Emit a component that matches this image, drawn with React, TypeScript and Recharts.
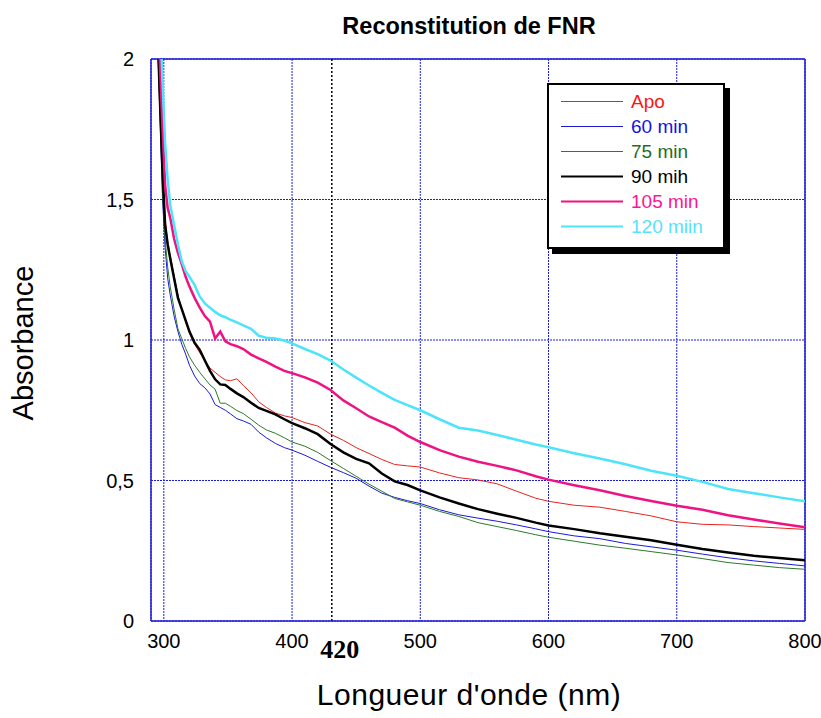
import { LineChart, Line, XAxis, YAxis, CartesianGrid, ReferenceLine, Legend } from "recharts"

const FONT = "'Liberation Sans', Arial, Helvetica, sans-serif"

// wavelength (nm)
const WAVELENGTHS = [
    295, 297, 299, 301, 303, 305, 308, 311, 314, 317, 320, 324, 328, 332, 336, 340, 344, 348, 352, 357, 362,
    368, 374, 380, 387, 394, 400, 410, 420, 430, 440, 450, 460, 470, 480, 490, 500, 515, 530, 545, 560, 575,
    590, 600, 620, 640, 660, 680, 700, 720, 740, 760, 780, 800,
]

const APO = [
    2.08, 1.86, 1.6, 1.43, 1.35, 1.3, 1.23, 1.16, 1.11, 1.065, 1.025, 0.985, 0.955, 0.927, 0.9, 0.885, 0.87,
    0.858, 0.855, 0.862, 0.838, 0.812, 0.78, 0.76, 0.74, 0.73, 0.724, 0.706, 0.694, 0.665, 0.643, 0.617, 0.596,
    0.575, 0.557, 0.552, 0.548, 0.527, 0.51, 0.502, 0.488, 0.462, 0.437, 0.426, 0.412, 0.405, 0.39, 0.374,
    0.353, 0.344, 0.342, 0.336, 0.331, 0.326,
]
const MIN60 = [
    2.08, 1.8, 1.5, 1.33, 1.22, 1.16, 1.085, 1.03, 0.985, 0.95, 0.91, 0.872, 0.845, 0.83, 0.808, 0.77, 0.76,
    0.75, 0.737, 0.72, 0.712, 0.7, 0.672, 0.652, 0.632, 0.617, 0.608, 0.59, 0.568, 0.547, 0.528, 0.508, 0.48,
    0.455, 0.44, 0.428, 0.418, 0.396, 0.378, 0.366, 0.355, 0.342, 0.328, 0.318, 0.303, 0.293, 0.276, 0.264,
    0.252, 0.238, 0.225, 0.214, 0.205, 0.196,
]
const MIN75 = [
    2.08, 1.82, 1.52, 1.36, 1.26, 1.19, 1.11, 1.04, 1.005, 0.97, 0.94, 0.91, 0.885, 0.862, 0.84, 0.825, 0.775,
    0.775, 0.764, 0.749, 0.738, 0.718, 0.697, 0.68, 0.668, 0.652, 0.637, 0.622, 0.6, 0.571, 0.543, 0.515, 0.487,
    0.462, 0.436, 0.424, 0.412, 0.39, 0.372, 0.35, 0.336, 0.322, 0.307, 0.298, 0.284, 0.27, 0.259, 0.247,
    0.235, 0.222, 0.208, 0.199, 0.19, 0.184,
]
const MIN90 = [
    2.12, 1.85, 1.6, 1.41, 1.34, 1.29, 1.22, 1.15, 1.11, 1.07, 1.03, 0.99, 0.965, 0.927, 0.89, 0.86, 0.842,
    0.84, 0.826, 0.81, 0.797, 0.777, 0.758, 0.748, 0.735, 0.718, 0.704, 0.686, 0.665, 0.63, 0.6, 0.577, 0.561,
    0.525, 0.497, 0.484, 0.465, 0.44, 0.418, 0.398, 0.382, 0.367, 0.35, 0.34, 0.327, 0.312, 0.3, 0.287, 0.271,
    0.256, 0.244, 0.232, 0.224, 0.216,
]
const MIN105 = [
    2.2, 1.98, 1.75, 1.55, 1.47, 1.435, 1.36, 1.31, 1.27, 1.225, 1.19, 1.15, 1.115, 1.085, 1.065, 1.005, 1.03,
    0.995, 0.985, 0.978, 0.968, 0.948, 0.935, 0.922, 0.905, 0.89, 0.882, 0.867, 0.848, 0.822, 0.785, 0.757,
    0.728, 0.708, 0.688, 0.66, 0.637, 0.608, 0.585, 0.567, 0.552, 0.536, 0.515, 0.503, 0.483, 0.465, 0.445,
    0.427, 0.41, 0.396, 0.376, 0.361, 0.347, 0.334,
]
const MIN120 = [
    2.4, 2.15, 1.92, 1.7, 1.57, 1.48, 1.41, 1.34, 1.28, 1.245, 1.225, 1.195, 1.155, 1.13, 1.115, 1.1, 1.088,
    1.081, 1.072, 1.063, 1.052, 1.04, 1.015, 1.008, 1.005, 0.998, 0.988, 0.968, 0.95, 0.927, 0.895, 0.866,
    0.838, 0.812, 0.787, 0.768, 0.75, 0.718, 0.688, 0.678, 0.662, 0.645, 0.628, 0.618, 0.597, 0.578, 0.558,
    0.535, 0.517, 0.495, 0.47, 0.455, 0.44, 0.426,
]

const X_TICKS = [300, 400, 500, 600, 700, 800]
const Y_TICKS = [0, 0.5, 1, 1.5, 2]
const MARKER_NM = 431
const MARKER_LABEL = "420"

const SERIES = [
    { key: "apo", name: "Apo", values: APO, color: "#e8231c", text: "#ff1414", width: 1 },
    { key: "m60", name: "60 min", values: MIN60, color: "#1a1ad6", text: "#1414dc", width: 1 },
    { key: "m75", name: "75 min", values: MIN75, color: "#2c7a2c", text: "#1e6e1e", width: 1 },
    { key: "m90", name: "90 mih", values: MIN90, color: "#000000", text: "#000000", width: 2.5 },
    { key: "m105", name: "105 min", values: MIN105, color: "#ee1282", text: "#ff1493", width: 2.5 },
    { key: "m120", name: "120 miin", values: MIN120, color: "#4de4fb", text: "#55e2ff", width: 2.5 },
]

const rows = WAVELENGTHS.map((nm, i) => {
    const row: Record<string, number> = { nm }
    SERIES.forEach((s) => (row[s.key] = s.values[i]))
    return row
})

const BLUE = "#1c1cd8"

function LegendBox() {
    return (
        <div
            style={{
                width: 174,
                height: 158,
                border: "2px solid #000",
                boxShadow: "5px 5px 0 #000",
                background: "#fff",
                paddingTop: 4,
                boxSizing: "content-box",
                fontFamily: FONT,
                fontSize: 19,
            }}
        >
            {SERIES.map((s) => (
                <div key={s.key} style={{ display: "flex", alignItems: "center", height: 25 }}>
                    <svg width={82} height={25} style={{ flex: "none" }}>
                        <line x1={12} x2={74} y1={12.5} y2={12.5} stroke={s.color} strokeWidth={s.width > 1 ? 2 : 1} />
                    </svg>
                    <span style={{ color: s.text, lineHeight: "25px" }}>{s.name}</span>
                </div>
            ))}
        </div>
    )
}

export default function App() {
    return (
        <div style={{ position: "absolute", left: 0, top: 0, width: 821, height: 718, background: "#fff" }}>
            <div
                style={{
                    position: "absolute",
                    left: 0,
                    top: 13,
                    width: 938,
                    textAlign: "center",
                    fontFamily: FONT,
                    fontWeight: "bold",
                    fontSize: 23.5,
                    lineHeight: "26px",
                }}
            >
                Reconstitution de FNR
            </div>
            <LineChart width={821} height={718} data={rows} margin={{ top: 59, right: 16, left: 0, bottom: 0 }}>
                <CartesianGrid stroke={BLUE} strokeDasharray="2 1" strokeWidth={1} />
                <XAxis
                    type="number"
                    dataKey="nm"
                    domain={[290, 800]}
                    ticks={X_TICKS}
                    allowDataOverflow
                    height={97}
                    tickLine={false}
                    tickSize={0}
                    tickMargin={13}
                    axisLine={{ stroke: BLUE, strokeWidth: 1.5 }}
                    tick={{ fontSize: 20, fill: "#000", fontFamily: FONT }}
                    label={{
                        content: (p: any) => {
                            const vb = p.viewBox
                            return (
                                <text x={vb.x + vb.width / 2 - 9} y={vb.y + 84} textAnchor="middle" fontSize={30} letterSpacing={0.5} fontFamily={FONT} fill="#000">
                                    Longueur d'onde (nm)
                                </text>
                            )
                        },
                    }}
                />
                <YAxis
                    type="number"
                    domain={[0, 2]}
                    ticks={Y_TICKS}
                    allowDataOverflow
                    width={151}
                    tickLine={false}
                    tickSize={0}
                    tickMargin={17}
                    axisLine={{ stroke: BLUE, strokeWidth: 1.5 }}
                    tickFormatter={(v: number) => String(v).replace(".", ",")}
                    tick={{ fontSize: 20, fill: "#000", fontFamily: FONT }}
                    label={{
                        content: (p: any) => {
                            const vb = p.viewBox
                            const cx = vb.x + 33
                            const cy = vb.y + vb.height / 2 + 3
                            return (
                                <text x={cx} y={cy} transform={`rotate(-90 ${cx} ${cy})`} textAnchor="middle" fontSize={29} fontFamily={FONT} fill="#000">
                                    Absorbance
                                </text>
                            )
                        },
                    }}
                />
                <ReferenceLine y={2} stroke={BLUE} strokeWidth={1.5} />
                <ReferenceLine x={800} stroke={BLUE} strokeWidth={1.5} />
                <ReferenceLine
                    x={MARKER_NM}
                    stroke="#000"
                    strokeWidth={1.5}
                    strokeDasharray="2 2"
                    label={{
                        content: (p: any) => {
                            const vb = p.viewBox
                            const bottom = Math.max(vb.y, vb.y + vb.height)
                            return (
                                <text x={vb.x + 8} y={bottom + 37} textAnchor="middle" fontSize={26} fontWeight="bold" fontFamily="'Liberation Serif', 'Times New Roman', serif" fill="#000">
                                    {MARKER_LABEL}
                                </text>
                            )
                        },
                    }}
                />
                {SERIES.map((s) => (
                    <Line
                        key={s.key}
                        type="linear"
                        dataKey={s.key}
                        name={s.name}
                        stroke={s.color}
                        strokeWidth={s.width}
                        dot={false}
                        activeDot={false}
                        isAnimationActive={false}
                    />
                ))}
                <Legend
                    layout="vertical"
                    align="center"
                    verticalAlign="middle"
                    content={() => <LegendBox />}
                    wrapperStyle={{ left: 547, top: 83, width: 180, height: 166 }}
                />
            </LineChart>
        </div>
    )
}
